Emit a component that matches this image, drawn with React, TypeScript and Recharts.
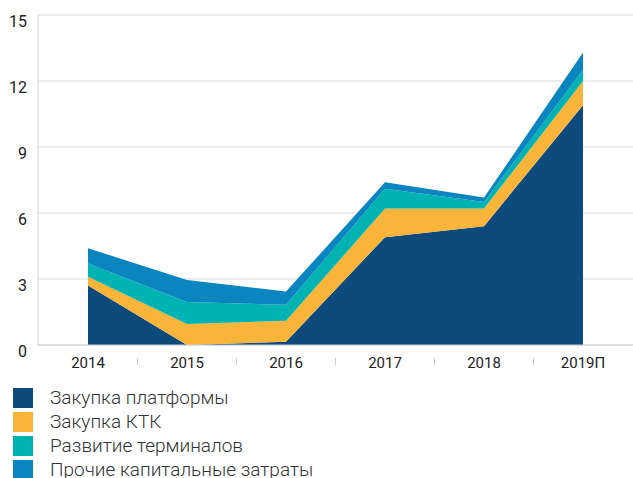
import React from "react";
import { AreaChart, Area, XAxis, YAxis, CartesianGrid } from "recharts";

const years = ["2014", "2015", "2016", "2017", "2018", "2019П"];
const platform = [2.7, 0, 0.15, 4.9, 5.4, 10.9];
const ktk = [0.4, 0.95, 0.95, 1.3, 0.8, 1.1];
const terminals = [0.6, 1.0, 0.73, 0.9, 0.3, 0.5];
const other = [0.7, 1.0, 0.6, 0.3, 0.2, 0.8];
const yTicks = [0, 3, 6, 9, 12, 15];

const seriesNames = [
  "Закупка платформы",
  "Закупка КТК",
  "Развитие терминалов",
  "Прочие капитальные затраты",
];
const colors = ["#0F4A7C", "#F9B43A", "#00B3B3", "#0A85C0"];
const keys = ["platform", "ktk", "terminals", "other"];

const data = years.map((year, i) => ({
  year,
  platform: platform[i],
  ktk: ktk[i],
  terminals: terminals[i],
  other: other[i],
}));

const font = "Roboto, 'Noto Sans', sans-serif";

const XTick = (props: any) => {
  const { x, y, payload, index } = props;
  return (
    <g>
      <text
        x={x}
        y={y + 23}
        textAnchor="middle"
        fontFamily={font}
        fontSize={15}
        fill="#222"
      >
        {payload.value}
      </text>
      {index < years.length - 1 && (
        <line x1={x + 49.5} x2={x + 49.5} y1={y + 13} y2={y + 20} stroke="#ccc" strokeWidth={1} />
      )}
    </g>
  );
};

const YTick = (props: any) => {
  const { x, y, payload } = props;
  return (
    <text
      x={x - 11}
      y={y + 12}
      textAnchor="end"
      fontFamily={font}
      fontSize={16}
      fill="#222"
    >
      {payload.value}
    </text>
  );
};

export default function App() {
  return (
    <div
      style={{
        position: "absolute",
        left: 0,
        top: 0,
        width: 633,
        height: 478,
        background: "#fff",
        overflow: "hidden",
      }}
    >
      <AreaChart
        width={633}
        height={380}
        data={data}
        margin={{ top: 15, right: 0, left: 0, bottom: 0 }}
      >
        <CartesianGrid vertical={false} stroke="#d9d9d9" />
        <XAxis
          dataKey="year"
          height={35}
          padding={{ left: 50, right: 50 }}
          axisLine={{ stroke: "#cfcfcf" }}
          tickLine={false}
          tickSize={0}
          tickMargin={0}
          tick={<XTick />}
          interval={0}
        />
        <YAxis
          width={38}
          domain={[0, 15]}
          ticks={yTicks}
          axisLine={{ stroke: "#d5d5d5" }}
          tickLine={false}
          tickSize={0}
          tickMargin={0}
          tick={<YTick />}
          interval={0}
        />
        {keys.map((k, i) => (
          <Area
            key={k}
            type="linear"
            dataKey={k}
            stackId="1"
            stroke="none"
            fill={colors[i]}
            fillOpacity={1}
            isAnimationActive={false}
          />
        ))}
      </AreaChart>
      <div style={{ position: "absolute", left: 13, top: 388 }}>
        {seriesNames.map((name, i) => (
          <div
            key={name}
            style={{ display: "flex", alignItems: "center", height: 24 }}
          >
            <div style={{ width: 20, height: 20, background: colors[i], marginTop: -4 }} />
            <span
              style={{
                marginLeft: 17,
                fontFamily: font,
                fontWeight: 300,
                fontSize: 19,
                color: "#333",
                lineHeight: "20px",
                marginTop: -4,
              }}
            >
              {name}
            </span>
          </div>
        ))}
      </div>
    </div>
  );
}
